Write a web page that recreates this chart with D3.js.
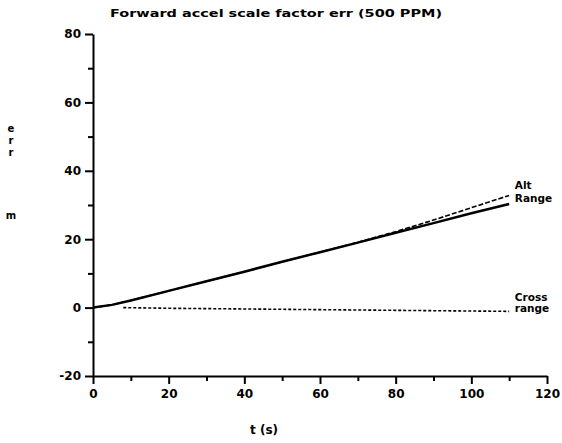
<!DOCTYPE html>
<html>
<head>
<meta charset="utf-8">
<script src="https://cdn.jsdelivr.net/npm/d3@7"></script>
<style>
  body { margin: 0; background: #fff; }
  text { font-family: "DejaVu Sans", sans-serif; font-weight: bold; fill: #000; }
</style>
</head>
<body>
<div class="chart"></div>
<script>
// data
let tTimes = [0, 5, 10, 20, 30, 40, 50, 60, 70, 80, 90, 100, 110];
let rangeErr = [0, 0.8, 2.1, 4.9, 7.7, 10.5, 13.4, 16.2, 19.0, 21.9, 24.7, 27.6, 30.3];
let altErr = [0, 0.8, 2.1, 4.9, 7.7, 10.5, 13.4, 16.2, 19.1, 22.2, 25.6, 29.2, 32.8];
let crossTimes = [8, 20, 40, 60, 80, 100, 110];
let crossErr = [0, -0.2, -0.4, -0.6, -0.8, -1.0, -1.1];
let xTicks = [0, 20, 40, 60, 80, 100, 120];
let yTicks = [-20, 0, 20, 40, 60, 80];

let width = 562, height = 443;
let margin = {top: 34, right: 15, bottom: 67, left: 93};

var svg = d3.select(".chart")
  .append("svg")
    .attr("width", width)
    .attr("height", height);

let x = d3.scaleLinear().domain([0, 120]).range([margin.left, 547]);
let y = d3.scaleLinear().domain([-20, 80]).range([376, margin.top]);

// x axis
let xAxis = svg.append("g")
    .attr("transform", "translate(0," + y(-20) + ")")
    .call(d3.axisBottom(x).tickValues(d3.range(0, 121, 10)).tickFormat(d => xTicks.includes(d) ? d : "").tickSizeOuter(0));
xAxis.selectAll(".tick line")
    .attr("y2", d => xTicks.includes(d) ? 8 : 5)
    .attr("stroke-width", 2);
xAxis.selectAll(".tick text").attr("y", 13).style("font-size", "12px");

// y axis
let yAxis = svg.append("g")
    .attr("transform", "translate(" + x(0) + ",0)")
    .call(d3.axisLeft(y).tickValues(d3.range(-20, 81, 10)).tickFormat(d => yTicks.includes(d) ? d : "").tickSizeOuter(0));
yAxis.selectAll(".tick line")
    .attr("x2", d => yTicks.includes(d) ? -8 : -5)
    .attr("stroke-width", 2);
yAxis.selectAll(".tick text").attr("x", -12).style("font-size", "12px");
svg.selectAll(".domain").attr("stroke", "#000").attr("stroke-width", 2);

let line = d3.line().x(d => x(d[0])).y(d => y(d[1]));

svg.append("path")
    .datum(d3.zip(crossTimes, crossErr))
    .attr("fill", "none")
    .attr("stroke", "#000")
    .attr("stroke-width", 1.6)
    .attr("stroke-dasharray", "3,2")
    .attr("d", line);

svg.append("path")
    .datum(d3.zip(tTimes, altErr))
    .attr("fill", "none")
    .attr("stroke", "#000")
    .attr("stroke-width", 1.6)
    .attr("stroke-dasharray", "5,2")
    .attr("d", line);

svg.append("path")
    .datum(d3.zip(tTimes, rangeErr))
    .attr("fill", "none")
    .attr("stroke", "#000")
    .attr("stroke-width", 2.5)
    .attr("d", line);

// line labels
let lab = (txt, tx, ty) => svg.append("text")
    .attr("x", x(tx)).attr("y", y(ty))
    .style("font-size", "10.5px")
    .text(txt);
lab("Alt", 111.5, 34.6);
lab("Range", 111.5, 31.0);
lab("Cross", 111.5, 2.0);
lab("range", 111.5, -1.4);

// title
svg.append("text")
    .attr("x", 110).attr("y", 17)
    .attr("textLength", 332)
    .attr("lengthAdjust", "spacingAndGlyphs")
    .style("font-size", "11px")
    .text("Forward accel scale factor err (500 PPM)");

// axis titles
svg.append("text")
    .attr("x", 264).attr("y", 434)
    .attr("text-anchor", "middle")
    .style("font-size", "12px")
    .text("t (s)");

["e", "r", "r"].forEach((c, i) => svg.append("text")
    .attr("x", 11).attr("y", 132 + i * 12)
    .attr("text-anchor", "middle")
    .style("font-size", "10px")
    .text(c));
svg.append("text")
    .attr("x", 11).attr("y", 219)
    .attr("text-anchor", "middle")
    .style("font-size", "10px")
    .text("m");
</script>
</body>
</html>
